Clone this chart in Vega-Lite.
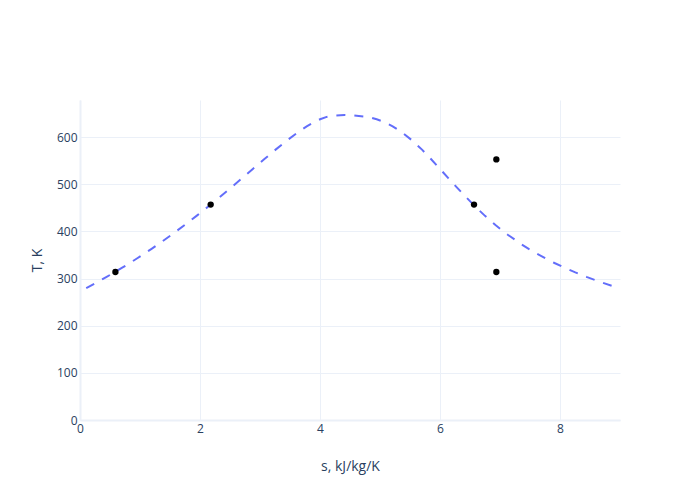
{
  "$schema": "https://vega.github.io/schema/vega-lite/v6.json",
  "width": 540,
  "height": 320,
  "autosize": {"type": "none"},
  "padding": {"left": 80, "top": 100, "right": 80, "bottom": 80},
  "background": "white",
  "config": {
    "view": {"stroke": null},
    "font": "Open Sans",
    "axis": {
      "labelFont": "Open Sans",
      "titleFont": "Open Sans",
      "labelColor": "#2a3f5f",
      "titleColor": "#2a3f5f",
      "labelFontSize": 12,
      "titleFontSize": 14,
      "titleFontWeight": "normal",
      "gridColor": "#EBF0F8",
      "gridWidth": 1,
      "domainColor": "#EBF0F8",
      "domainWidth": 2,
      "ticks": false,
      "tickSize": 0
    }
  },
  "datasets": {
    "dome": [
      {"i": 1, "s": 0.104, "T": 280},
      {"i": 2, "s": 0.1511, "T": 283.15},
      {"i": 3, "s": 0.2965, "T": 293.15},
      {"i": 4, "s": 0.4368, "T": 303.15},
      {"i": 5, "s": 0.5724, "T": 313.15},
      {"i": 6, "s": 0.7038, "T": 323.15},
      {"i": 7, "s": 0.8313, "T": 333.15},
      {"i": 8, "s": 0.9551, "T": 343.15},
      {"i": 9, "s": 1.0756, "T": 353.15},
      {"i": 10, "s": 1.1929, "T": 363.15},
      {"i": 11, "s": 1.3072, "T": 373.15},
      {"i": 12, "s": 1.5279, "T": 393.15},
      {"i": 13, "s": 1.7392, "T": 413.15},
      {"i": 14, "s": 1.9426, "T": 433.15},
      {"i": 15, "s": 2.1392, "T": 453.15},
      {"i": 16, "s": 2.3305, "T": 473.15},
      {"i": 17, "s": 2.5177, "T": 493.15},
      {"i": 18, "s": 2.702, "T": 513.15},
      {"i": 19, "s": 2.8849, "T": 533.15},
      {"i": 20, "s": 3.0685, "T": 553.15},
      {"i": 21, "s": 3.2552, "T": 573.15},
      {"i": 22, "s": 3.4494, "T": 593.15},
      {"i": 23, "s": 3.6601, "T": 613.15},
      {"i": 24, "s": 3.7784, "T": 623.15},
      {"i": 25, "s": 3.9167, "T": 633.15},
      {"i": 26, "s": 4.0014, "T": 638.15},
      {"i": 27, "s": 4.1112, "T": 643.15},
      {"i": 28, "s": 4.26, "T": 646.15},
      {"i": 29, "s": 4.407, "T": 647.1},
      {"i": 30, "s": 4.56, "T": 646.15},
      {"i": 31, "s": 4.8012, "T": 643.15},
      {"i": 32, "s": 4.9447, "T": 638.15},
      {"i": 33, "s": 5.0526, "T": 633.15},
      {"i": 34, "s": 5.2112, "T": 623.15},
      {"i": 35, "s": 5.3357, "T": 613.15},
      {"i": 36, "s": 5.5362, "T": 593.15},
      {"i": 37, "s": 5.7044, "T": 573.15},
      {"i": 38, "s": 5.8533, "T": 553.15},
      {"i": 39, "s": 5.9965, "T": 533.15},
      {"i": 40, "s": 6.1383, "T": 513.15},
      {"i": 41, "s": 6.284, "T": 493.15},
      {"i": 42, "s": 6.4323, "T": 473.15},
      {"i": 43, "s": 6.5857, "T": 453.15},
      {"i": 44, "s": 6.7502, "T": 433.15},
      {"i": 45, "s": 6.9293, "T": 413.15},
      {"i": 46, "s": 7.1291, "T": 393.15},
      {"i": 47, "s": 7.3541, "T": 373.15},
      {"i": 48, "s": 7.4781, "T": 363.15},
      {"i": 49, "s": 7.6111, "T": 353.15},
      {"i": 50, "s": 7.754, "T": 343.15},
      {"i": 51, "s": 7.9081, "T": 333.15},
      {"i": 52, "s": 8.0748, "T": 323.15},
      {"i": 53, "s": 8.2555, "T": 313.15},
      {"i": 54, "s": 8.452, "T": 303.15},
      {"i": 55, "s": 8.6661, "T": 293.15},
      {"i": 56, "s": 8.8999, "T": 283.15},
      {"i": 57, "s": 8.978, "T": 280}
    ],
    "states": [
      {"s": 0.59, "T": 314},
      {"s": 2.178, "T": 457},
      {"s": 6.567, "T": 457},
      {"s": 6.939, "T": 553},
      {"s": 6.939, "T": 314}
    ]
  },
  "layer": [
    {
      "data": {"name": "dome"},
      "mark": {"type": "line", "color": "#636efa", "strokeWidth": 2, "strokeDash": [9, 9]},
      "encoding": {
        "x": {
          "field": "s", "type": "quantitative",
          "scale": {"domain": [0, 9], "nice": false, "zero": false},
          "axis": {"title": "s, kJ/kg/K", "values": [0, 2, 4, 6, 8], "format": "d", "labelPadding": 3, "titleY": 46, "titleBaseline": "middle", "labelFlush": false}
        },
        "y": {
          "field": "T", "type": "quantitative",
          "scale": {"domain": [0, 679], "nice": false},
          "axis": {"title": "T, K", "values": [0, 100, 200, 300, 400, 500, 600], "format": "d", "labelPadding": 3, "titleX": -43, "titleY": 160, "titleBaseline": "middle", "titleAlign": "center", "titleAngle": -90}
        },
        "order": {"field": "i", "type": "quantitative"}
      }
    },
    {
      "data": {"name": "states"},
      "mark": {"type": "point", "filled": true, "color": "black", "opacity": 1, "size": 40},
      "encoding": {
        "x": {"field": "s", "type": "quantitative"},
        "y": {"field": "T", "type": "quantitative"}
      }
    }
  ]
}
